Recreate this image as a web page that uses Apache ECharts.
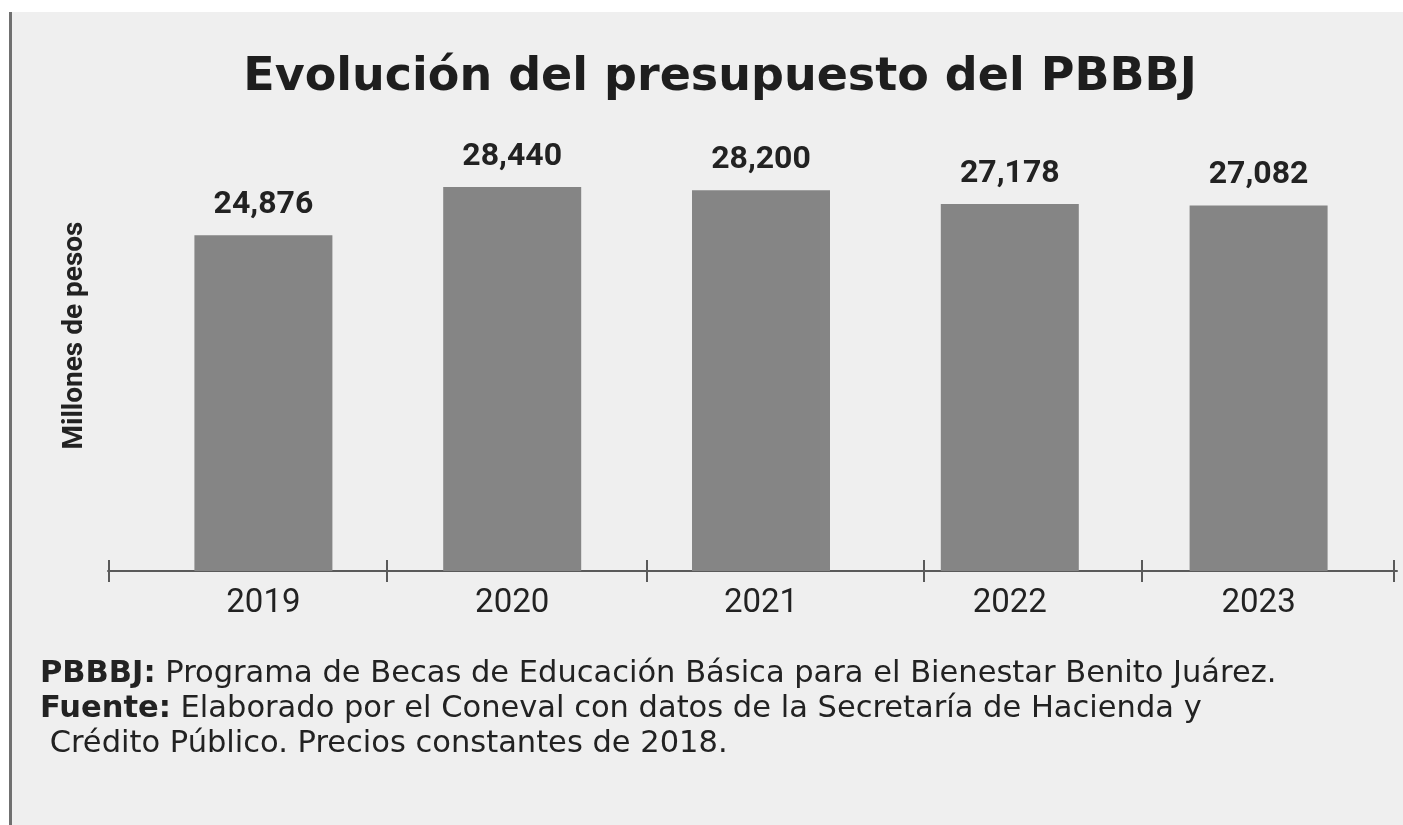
<!DOCTYPE html>
<html>
<head>
<meta charset="utf-8">
<script src="https://cdn.jsdelivr.net/npm/echarts@6/dist/echarts.min.js"></script>
<style>
  html, body { margin: 0; padding: 0; background: #ffffff; width: 1403px; height: 825px; overflow: hidden; }
  #bg { position: absolute; left: 9px; top: 12px; right: 0; bottom: 0; background: #efefef; border-left: 3px solid #707070; }
  #chart { position: absolute; left: 0; top: 0; width: 1403px; height: 825px; }
</style>
</head>
<body>
<div id="bg"></div>
<div id="chart"></div>
<script>
// ---- Data ----
const categories = ['2019', '2020', '2021', '2022', '2023'];
const budgetValues = [24876, 28440, 28200, 27178, 27082];
const titleText = 'Evolución del presupuesto del PBBBJ';
const yAxisName = 'Millones de pesos';
const noteLabels = ['PBBBJ:', 'Fuente:'];
const noteTexts = [
  ' Programa de Becas de Educación Básica para el Bienestar Benito Juárez.',
  ' Elaborado por el Coneval con datos de la Secretaría de Hacienda y',
  ' Crédito Público. Precios constantes de 2018.'
];
// decorative tick positions along the baseline (axis units 0..1289)
const baselineTicks = [1, 279, 539, 816, 1034, 1286];

const FONT = 'Roboto, "DejaVu Sans", sans-serif';
const WIDE = '"DejaVu Sans", Roboto, sans-serif';
const chart = echarts.init(document.getElementById('chart'), null, { renderer: 'canvas' });

const option = {
  backgroundColor: 'transparent',
  animation: false,
  title: {
    text: titleText,
    left: 715,
    top: 50,
    textAlign: 'center',
    textStyle: { fontFamily: WIDE, fontWeight: 'bold', fontSize: 46, color: '#1e1e1e' }
  },
  grid: [
    { left: 139, right: 20, top: 166, bottom: 254 },
    { left: 108, right: 6, top: 166, bottom: 254 }
  ],
  xAxis: [
    {
      type: 'category',
      gridIndex: 0,
      data: categories,
      axisLine: { show: false },
      axisTick: { show: false },
      axisLabel: { fontFamily: FONT, fontSize: 33, color: '#222', margin: 16 }
    },
    {
      type: 'value',
      gridIndex: 1,
      min: 0, max: 1289,
      axisLine: { show: true, lineStyle: { color: '#5a5a5a', width: 2 } },
      axisTick: { show: true, inside: true, length: 11, customValues: baselineTicks, lineStyle: { color: '#5a5a5a', width: 2 } },
      axisLabel: { show: false },
      splitLine: { show: false }
    },
    {
      type: 'value',
      gridIndex: 1,
      min: 0, max: 1289,
      position: 'bottom',
      axisLine: { show: false },
      axisTick: { show: true, inside: false, length: 11, customValues: baselineTicks, lineStyle: { color: '#5a5a5a', width: 2 } },
      axisLabel: { show: false },
      splitLine: { show: false }
    }
  ],
  yAxis: [
    {
      type: 'value',
      gridIndex: 0,
      min: 0, max: 30000,
      axisLine: { show: false },
      axisTick: { show: false },
      axisLabel: { show: false },
      splitLine: { show: false },
      name: yAxisName,
      nameLocation: 'middle',
      nameRotate: 90,
      nameGap: 50,
      nameTextStyle: { fontFamily: FONT, fontWeight: 'bold', fontSize: 28, color: '#222', padding: [0, 0, 0, 66] }
    },
    {
      type: 'value',
      gridIndex: 1,
      show: false
    }
  ],
  series: [
    {
      type: 'bar',
      xAxisIndex: 0,
      yAxisIndex: 0,
      data: budgetValues,
      barWidth: 138,
      itemStyle: { color: '#858585' },
      label: {
        show: true,
        position: 'top',
        distance: 14,
        fontFamily: FONT,
        fontWeight: 'bold',
        fontSize: 32,
        color: '#222',
        formatter: p => p.value.toLocaleString('en-US')
      }
    }
  ],
  graphic: [
    {
      type: 'text',
      left: 40,
      top: 657,
      style: {
        text: '{b|' + noteLabels[0] + '}' + noteTexts[0] + '\n{b|' + noteLabels[1] + '}' + noteTexts[1] + '\n' + noteTexts[2],
        fontFamily: WIDE,
        fontSize: 30.5,
        lineHeight: 35,
        fill: '#222',
        rich: {
          b: { fontFamily: WIDE, fontWeight: 'bold', fontSize: 30.5, lineHeight: 35, fill: '#222' }
        }
      }
    }
  ]
};
chart.setOption(option);
</script>
</body>
</html>
